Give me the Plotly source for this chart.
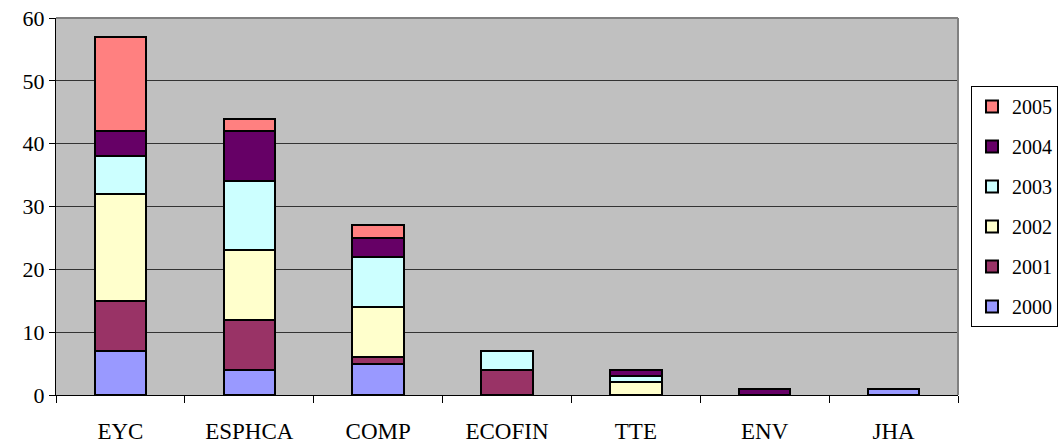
import plotly.graph_objects as go

categories = ["EYC", "ESPHCA", "COMP", "ECOFIN", "TTE", "ENV", "JHA"]
years = ["2000", "2001", "2002", "2003", "2004", "2005"]

v2000 = [7, 4, 5, 0, 0, 0, 1]
v2001 = [8, 8, 1, 4, 0, 0, 0]
v2002 = [17, 11, 8, 0, 2, 0, 0]
v2003 = [6, 11, 8, 3, 1, 0, 0]
v2004 = [4, 8, 3, 0, 1, 1, 0]
v2005 = [15, 2, 2, 0, 0, 0, 0]

series = [v2000, v2001, v2002, v2003, v2004, v2005]
colors = ["#9999FF", "#993366", "#FFFFCC", "#CCFFFF", "#660066", "#FF8080"]

fig = go.Figure()
for i, (yr, vals, col) in enumerate(zip(years, series, colors)):
    fig.add_trace(go.Bar(
        x=categories, y=vals, name=yr, legendgroup=yr,
        legendrank=100 - i,  # newest year listed first
        marker=dict(color=col, line=dict(color="#000000", width=2)),
    ))

serif = "Liberation Serif"

fig.update_layout(
    width=1058, height=443,
    barmode="stack", bargap=0.6,
    paper_bgcolor="#FFFFFF", plot_bgcolor="#C0C0C0",
    margin=dict(l=56, r=100, t=18, b=48, autoexpand=False),
    font=dict(family=serif, size=22, color="#000000"),
    showlegend=True,
    legend=dict(
        xref="container", yref="container",
        x=971 / 1058, y=1 - 86 / 443, xanchor="left", yanchor="top",
        traceorder="grouped", tracegroupgap=11, maxheight=400,
        bordercolor="#000000", borderwidth=1, bgcolor="#FFFFFF",
        font=dict(family=serif, size=20), itemwidth=30,
    ),
    xaxis=dict(
        showline=True, linecolor="#000000", linewidth=1,
        ticks="outside", tickson="boundaries", ticklen=7, tickcolor="#000000",
        showgrid=False, tickfont=dict(family=serif, size=23),
        ticklabelstandoff=15, automargin=False,
    ),
    yaxis=dict(
        range=[0, 60], dtick=10, showline=True, linecolor="#000000", linewidth=1,
        ticks="outside", ticklen=6, tickcolor="#000000",
        showgrid=True, gridcolor="#333333", gridwidth=1,
        zeroline=False, tickfont=dict(family=serif, size=22), automargin=False,
    ),
)

# grey frame on the top and right edges of the plot area
fig.add_shape(type="line", xref="paper", yref="paper", x0=0, x1=1, y0=1, y1=1,
              line=dict(color="#808080", width=2))
fig.add_shape(type="line", xref="paper", yref="paper", x0=1, x1=1, y0=0, y1=1,
              line=dict(color="#808080", width=2))

fig.write_html("out.html")
